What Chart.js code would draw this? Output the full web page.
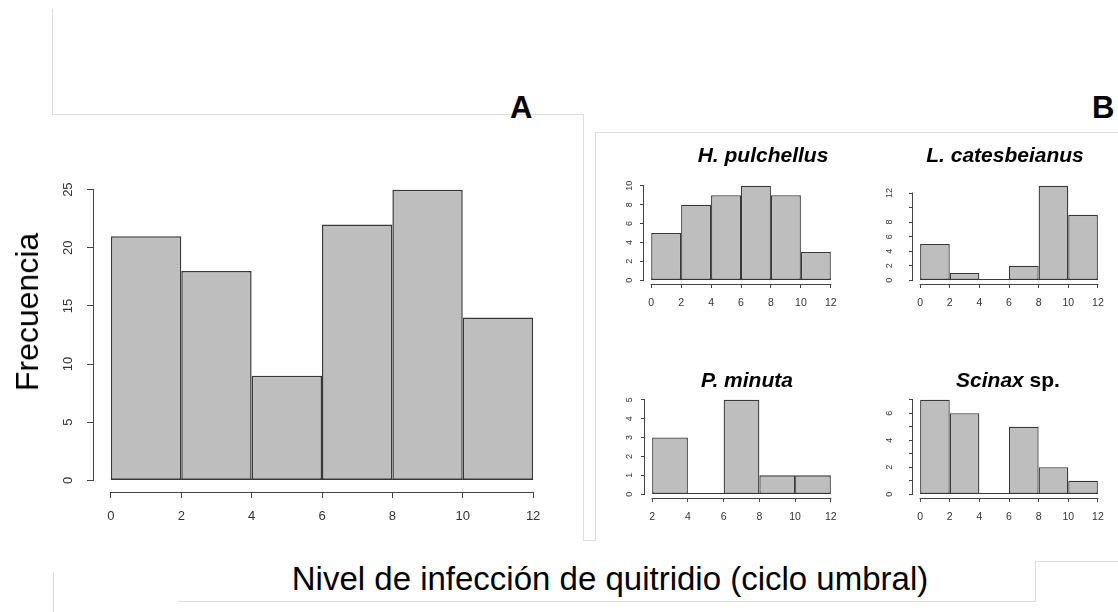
<!DOCTYPE html>
<html>
<head>
<meta charset="utf-8">
<script src="https://cdn.jsdelivr.net/npm/chart.js@4.4.1/dist/chart.umd.min.js"></script>
<style>
html,body{margin:0;padding:0;background:#fff;}
#page{position:relative;width:1118px;height:612px;overflow:hidden;font-family:"Liberation Sans",Arial,Helvetica,sans-serif;background:#fff;}
canvas{position:absolute;}
.t{position:absolute;white-space:nowrap;line-height:1;color:#000;}
.ttl{font-weight:bold;font-style:italic;font-size:21px;transform:translateX(-50%);}
.ln{position:absolute;background:#dedede;}
</style>
</head>
<body>
<div id="page">
  <div class="ln" style="left:52px;top:9px;width:1px;height:106px;"></div>
  <div class="ln" style="left:52px;top:114px;width:532px;height:1px;"></div>
  <div class="ln" style="left:583px;top:114px;width:1px;height:427px;"></div>
  <div class="ln" style="left:595px;top:132px;width:523px;height:1px;"></div>
  <div class="ln" style="left:595px;top:132px;width:1px;height:409px;"></div>
  <div class="ln" style="left:583px;top:540px;width:13px;height:1px;"></div>
  <div class="ln" style="left:178px;top:601px;width:858px;height:1px;"></div>
  <div class="ln" style="left:1035px;top:561px;width:1px;height:41px;"></div>
  <div class="ln" style="left:1035px;top:561px;width:83px;height:1px;"></div>
  <div class="ln" style="left:53px;top:572px;width:1px;height:40px;"></div>

  <canvas id="cA"></canvas>
  <canvas id="cH"></canvas>
  <canvas id="cL"></canvas>
  <canvas id="cP"></canvas>
  <canvas id="cS"></canvas>

  <div class="t" style="left:27px;top:312px;font-size:32px;transform:translate(-50%,-50%) rotate(-90deg);">Frecuencia</div>
  <div class="t" style="left:510px;top:92px;font-size:31px;font-weight:bold;">A</div>
  <div class="t" style="left:1092px;top:92px;font-size:31px;font-weight:bold;">B</div>
  <div class="t ttl" style="left:763px;top:144px;">H. pulchellus</div>
  <div class="t ttl" style="left:1005px;top:144px;">L. catesbeianus</div>
  <div class="t ttl" style="left:747px;top:369px;">P. minuta</div>
  <div class="t ttl" style="left:1008px;top:369px;">Scinax<span style="font-style:normal;"> sp.</span></div>
  <div class="t" style="left:610px;top:562px;font-size:33px;transform:translateX(-50%);">Nivel de infección de quitridio (ciclo umbral)</div>
</div>

<script>
// ---------- DATA ----------
// Panel A: all species
const binsAll = [0, 2, 4, 6, 8, 10, 12];
const countsAll = [21, 18, 9, 22, 25, 14];
const xTicksAll = [0, 2, 4, 6, 8, 10, 12];
const xLabelsAll = ['0', '2', '4', '6', '8', '10', '12'];
const yTicksAll = [0, 5, 10, 15, 20, 25];
const yLabelsAll = ['0', '5', '10', '15', '20', '25'];

// H. pulchellus
const binsHp = [0, 2, 4, 6, 8, 10, 12];
const countsHp = [5, 8, 9, 10, 9, 3];
const xTicksHp = [0, 2, 4, 6, 8, 10, 12];
const xLabelsHp = ['0', '2', '4', '6', '8', '10', '12'];
const yTicksHp = [0, 2, 4, 6, 8, 10];
const yLabelsHp = ['0', '2', '4', '6', '8', '10'];

// L. catesbeianus
const binsLc = [0, 2, 4, 6, 8, 10, 12];
const countsLc = [5, 1, 0, 2, 13, 9];
const xTicksLc = [0, 2, 4, 6, 8, 10, 12];
const xLabelsLc = ['0', '2', '4', '6', '8', '10', '12'];
const yTicksLc = [0, 2, 4, 6, 8, 10, 12];
const yLabelsLc = ['0', '2', '4', '6', '8', '', '12'];

// P. minuta
const binsPm = [2, 4, 6, 8, 10, 12];
const countsPm = [3, 0, 5, 1, 1];
const xTicksPm = [2, 4, 6, 8, 10, 12];
const xLabelsPm = ['2', '4', '6', '8', '10', '12'];
const yTicksPm = [0, 1, 2, 3, 4, 5];
const yLabelsPm = ['0', '1', '2', '3', '4', '5'];

// Scinax sp.
const binsSc = [0, 2, 4, 6, 8, 10, 12];
const countsSc = [7, 6, 0, 5, 2, 1];
const xTicksSc = [0, 2, 4, 6, 8, 10, 12];
const xLabelsSc = ['0', '2', '4', '6', '8', '10', '12'];
const yTicksSc = [0, 1, 2, 3, 4, 5, 6, 7];
const yLabelsSc = ['0', '', '2', '', '4', '', '6', ''];

// ---------- RENDER ----------
Chart.defaults.font.family = '"Liberation Sans", Arial, Helvetica, sans-serif';
const AXIS = '#444444';
const TICKTXT = '#333333';
const FILL = '#bebebe';
const EDGE = '#383838';

const rAxes = {
  id: 'rAxes',
  afterDatasetsDraw(chart, args, o) {
    const {ctx, scales: {x, y}} = chart;
    ctx.save();
    ctx.lineWidth = 1;
    // bin baseline (zero-height bins drawn as a line, like R)
    ctx.strokeStyle = EDGE;
    const yb = Math.round(y.getPixelForValue(0)) - 0.5;
    ctx.beginPath();
    ctx.moveTo(x.getPixelForValue(o.b0), yb);
    ctx.lineTo(x.getPixelForValue(o.b1), yb);
    ctx.stroke();
    // R-style axis lines spanning first..last tick
    ctx.strokeStyle = AXIS;
    const xl = Math.round(x.top) + 0.5;
    ctx.beginPath();
    ctx.moveTo(x.getPixelForValue(o.x0) - 0.5, xl);
    ctx.lineTo(x.getPixelForValue(o.x1) + 0.5, xl);
    ctx.stroke();
    const yl = Math.round(y.right) - 0.5;
    ctx.beginPath();
    ctx.moveTo(yl, y.getPixelForValue(o.y0) + 0.5);
    ctx.lineTo(yl, y.getPixelForValue(o.y1) - 0.5);
    ctx.stroke();
    ctx.restore();
  }
};

function ext(lo, hi) { const d = (hi - lo) * 0.04; return [lo - d, hi + d]; }

function makeHist(id, area, bins, counts, xT, xL, yT, yL, st) {
  const cv = document.getElementById(id);
  const padTop = 30, padRight = 15;
  const left = area.L - st.wy, top = area.T - padTop;
  const width = area.R + padRight - left, height = area.B + st.hx - top;
  cv.style.left = left + 'px'; cv.style.top = top + 'px';
  cv.width = width; cv.height = height;
  cv.style.width = width + 'px'; cv.style.height = height + 'px';
  const [xmin, xmax] = ext(bins[0], bins[bins.length - 1]);
  const [ymin, ymax] = ext(0, Math.max(...counts));
  const pts = counts.map((c, i) => ({x: (bins[i] + bins[i + 1]) / 2, y: c}));
  new Chart(cv, {
    type: 'bar',
    data: {datasets: [{data: pts, backgroundColor: FILL, borderColor: EDGE, borderWidth: st.bw,
      borderSkipped: false, barPercentage: 1, categoryPercentage: 1, inflateAmount: 0}]},
    options: {
      responsive: false, animation: false, events: [],
      layout: {padding: {top: padTop, right: padRight, left: 0, bottom: 0}},
      plugins: {legend: {display: false}, tooltip: {enabled: false}, title: {display: false},
        rAxes: {x0: xT[0], x1: xT[xT.length - 1], y0: yT[0], y1: yT[yT.length - 1], b0: bins[0], b1: bins[bins.length - 1]}},
      scales: {
        x: {type: 'linear', min: xmin, max: xmax, offset: false, bounds: 'data',
          afterBuildTicks: s => { s.ticks = xT.map(v => ({value: v})); },
          afterFit: s => { s.height = st.hx; },
          grid: {display: true, drawOnChartArea: false, drawTicks: true, tickLength: st.tlX, tickColor: AXIS, tickWidth: 1, offset: false},
          border: {display: false},
          ticks: {autoSkip: false, minRotation: 0, maxRotation: 0, padding: st.padX, color: TICKTXT,
            font: {size: st.fontX}, callback: (v, i) => xL[i]}
        },
        y: {type: 'linear', min: ymin, max: ymax, bounds: 'data',
          afterBuildTicks: s => { s.ticks = yT.map(v => ({value: v})); },
          afterFit: s => { s.width = st.wy; },
          grid: {display: true, drawOnChartArea: false, drawTicks: true, tickLength: st.tlY, tickColor: AXIS, tickWidth: 1},
          border: {display: false},
          ticks: {autoSkip: false, minRotation: 90, maxRotation: 90, crossAlign: 'center', padding: st.padY, color: TICKTXT,
            font: {size: st.fontY}, callback: (v, i) => yL[i]}
        }
      }
    },
    plugins: [rAxes]
  });
}

const big = {wy: 60, hx: 40, tlX: 6, tlY: 7, fontX: 13, fontY: 13, padX: 11, padY: 11, bw: 1.5};
makeHist('cA', {L: 94, T: 178, R: 550, B: 492}, binsAll, countsAll, xTicksAll, xLabelsAll, yTicksAll, yLabelsAll, big);
makeHist('cH', {L: 644, T: 182, R: 838, B: 284}, binsHp, countsHp, xTicksHp, xLabelsHp, yTicksHp, yLabelsHp,
  {wy: 35, hx: 32, tlX: 4, tlY: 4, fontX: 10.5, fontY: 9, padX: 8.5, padY: 5.5, bw: 1.3});
makeHist('cL', {L: 913, T: 182, R: 1105, B: 284}, binsLc, countsLc, xTicksLc, xLabelsLc, yTicksLc, yLabelsLc,
  {wy: 35, hx: 32, tlX: 4, tlY: 4, fontX: 10.5, fontY: 9, padX: 8.5, padY: 14, bw: 1.3});
makeHist('cP', {L: 645, T: 396, R: 838, B: 498}, binsPm, countsPm, xTicksPm, xLabelsPm, yTicksPm, yLabelsPm,
  {wy: 35, hx: 32, tlX: 4, tlY: 4, fontX: 10.5, fontY: 9, padX: 8.5, padY: 9, bw: 1.3});
makeHist('cS', {L: 913, T: 396, R: 1105, B: 498}, binsSc, countsSc, xTicksSc, xLabelsSc, yTicksSc, yLabelsSc,
  {wy: 35, hx: 32, tlX: 4, tlY: 4, fontX: 10.5, fontY: 9, padX: 8.5, padY: 17, bw: 1.3});
</script>
</body>
</html>
